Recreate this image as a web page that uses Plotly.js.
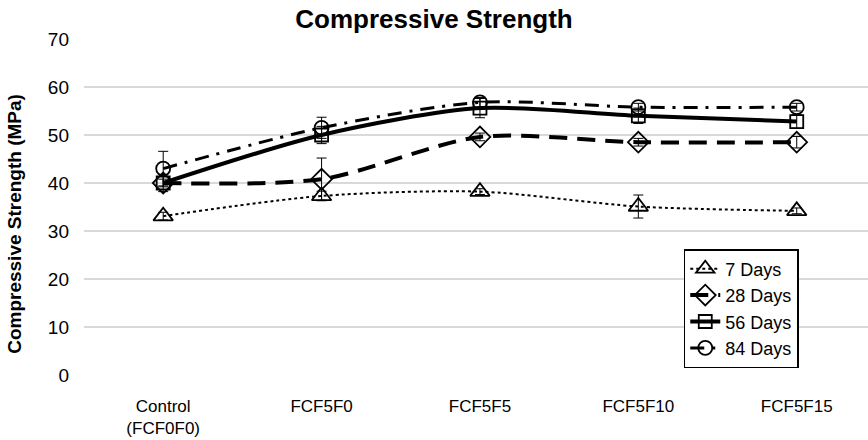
<!DOCTYPE html>
<html>
<head>
<meta charset="utf-8">
<script src="https://cdn.plot.ly/plotly-3.0.1.min.js"></script>
<style>html,body{margin:0;padding:0;background:#fff;}#chart{width:868px;height:440px;}</style>
</head>
<body>
<div id="chart"></div>
<script>
const categories = ["Control<br>(FCF0F0)", "FCF5F0", "FCF5F5", "FCF5F10", "FCF5F15"];
const days7 = [33.1, 37.3, 38.2, 35.1, 34.2];
const days7Err = [0.8, 1.0, 0.6, 2.4, 0.6];
const days28 = [40.0, 40.8, 49.6, 48.5, 48.5];
const days28Err = [0.8, 4.4, 0.8, 0.8, 1.2];
const days56 = [40.0, 50.0, 55.6, 54.0, 52.8];
const days56Err = [1.8, 1.8, 2.0, 1.6, 1.4];
const days84 = [43.0, 51.5, 56.8, 55.8, 55.8];
const days84Err = [3.6, 2.2, 1.0, 0.8, 0.8];

function series(name, y, err, dash, width, symbol, size) {
  return {
    type: 'scatter', mode: 'lines+markers', name: name,
    x: categories, y: y,
    line: {color: '#000', width: width, dash: dash, shape: 'spline', smoothing: 0.8},
    marker: {symbol: symbol, size: size, color: '#000', line: {color: '#000', width: 1.8}},
    error_y: {type: 'data', array: err, visible: true, color: '#000', thickness: 1, width: 5}
  };
}

const data = [
  series('7 Days', days7, days7Err, 'dot', 2, 'triangle-up-open', 17),
  series('28 Days', days28, days28Err, '18px,10px', 4, 'diamond-open', 16),
  series('56 Days', days56, days56Err, 'solid', 4, 'square-open', 13),
  series('84 Days', days84, days84Err, '14px,8px,3px,8px', 3, 'circle-open', 14)
];

const layout = {
  width: 868, height: 440,
  margin: {l: 84, r: 0, t: 39, b: 65},
  paper_bgcolor: '#fff', plot_bgcolor: '#fff',
  font: {family: 'Liberation Sans, Arial, sans-serif', color: '#000', size: 18},
  title: {text: '<b>Compressive Strength</b>', font: {size: 26, color: '#000'}, x: 0.5, xanchor: 'center', y: 0.958, yanchor: 'middle'},
  showlegend: true,
  legend: {x: 0.765, y: 0.375, xanchor: 'left', yanchor: 'top', bordercolor: '#000', borderwidth: 1.5, bgcolor: '#fff',
           font: {size: 18}, tracegroupgap: 0, itemsizing: 'trace'},
  xaxis: {type: 'category', range: [-0.5, 4.45], showgrid: false, zeroline: false, showline: false,
          ticks: '', tickfont: {size: 17}, ticklabelstandoff: 19},
  yaxis: {range: [0, 70], dtick: 10, showgrid: true, gridcolor: '#d9d9d9', gridwidth: 1.3, zeroline: false,
          showline: false, ticks: '', tickfont: {size: 19}, ticklabelstandoff: 14},
  annotations: [{
    text: '<b>Compressive Strength (MPa)</b>', textangle: -90, showarrow: false,
    xref: 'paper', yref: 'paper', x: -0.088, y: 0.45, xanchor: 'center', yanchor: 'middle',
    font: {size: 19, color: '#000'}
  }]
};

Plotly.newPlot('chart', data, layout, {displayModeBar: false, staticPlot: true});
</script>
</body>
</html>
